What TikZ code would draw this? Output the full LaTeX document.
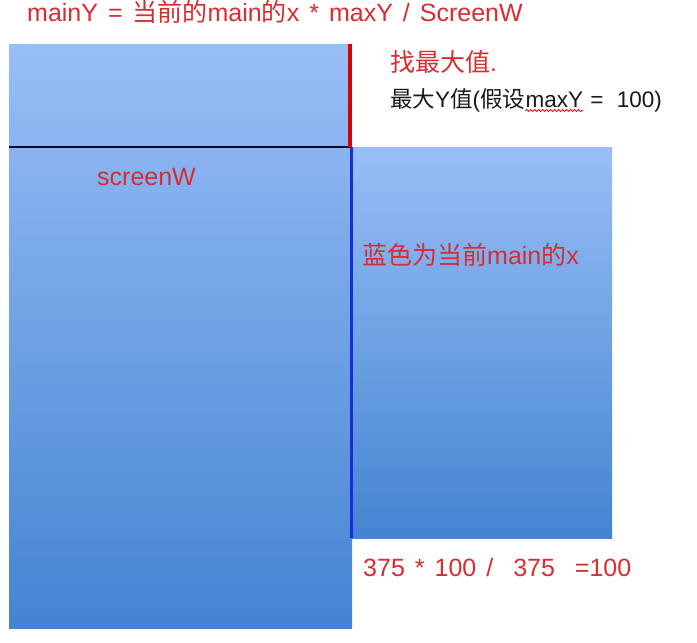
\documentclass[tikz,border=0pt]{standalone}
\usepackage{fontspec}
\setmainfont{Liberation Sans}
\newfontfamily\cjk{Noto Sans CJK SC}
\usetikzlibrary{decorations.pathmorphing}
\definecolor{noteRed}{RGB}{216,44,48}
\definecolor{topBlue}{RGB}{152,190,246}
\definecolor{midBlue}{RGB}{138,180,240}
\definecolor{lowBlue}{RGB}{68,132,210}
\definecolor{markBlue}{RGB}{25,45,215}
\newcommand\notefont{\fontsize{25}{30}\selectfont\spaceskip 0.4em\relax}
\newcommand\hintfont{\fontsize{22.5}{27}\selectfont\spaceskip 0.3em\relax}
\tikzset{
  note/.style={anchor=base west, inner sep=0pt, text=noteRed, font=\notefont},
  hint/.style={note, text=black!90, font=\hintfont},
  panel/.style={top color=topBlue, bottom color=lowBlue},
}
\begin{document}
\begin{tikzpicture}[x=1pt,y=-1pt]
	\useasboundingbox (0,0) rectangle (697,643);
	% screens
	\shade[top color=topBlue, bottom color=midBlue] (9,44) rectangle (352,147);
	\shade[top color=midBlue, bottom color=lowBlue] (9,147) rectangle (352,628);
	\shade[panel] (352,147) rectangle (612,538);
	
	\draw[line width=2.5pt, black!80!blue] (9,147) -- (351,147);
	\draw[line width=4pt, red!85!black] (350,44) -- (350,147);
	\draw[line width=3pt, markBlue] (351,147) -- (351,538);
	
	% labels
	\node[note] (formula) at (27,21) {mainY = {\cjk 当前的}main{\cjk 的}x * maxY / ScreenW};
	\node[note] (findMax) at (390,71) {{\cjk 找最大值}.};
	\node[hint] (maxHint) at (390,107) {{\cjk 最大}Y{\cjk 值}({\cjk 假设}};
	\node[hint] (maxKey) at (maxHint.base east) {maxY};
	\node[hint] (maxRest) at (maxKey.base east) {\ =\ \ 100)};
	\draw[noteRed, line width=1pt, decorate, decoration={snake, amplitude=1pt, segment length=4pt}]
		([yshift=-3.5pt]maxKey.base west) -- ([yshift=-3.5pt]maxKey.base east);
	\node[note] (screenW) at (97,185) {screenW};
	\node[note] (blueNote) at (362,264) {{\cjk 蓝色为当前}main{\cjk 的}x};
	\node[note] (result) at (363,576) {375 * 100 /\ \ 375\ \ =100};
\end{tikzpicture}
\end{document}
